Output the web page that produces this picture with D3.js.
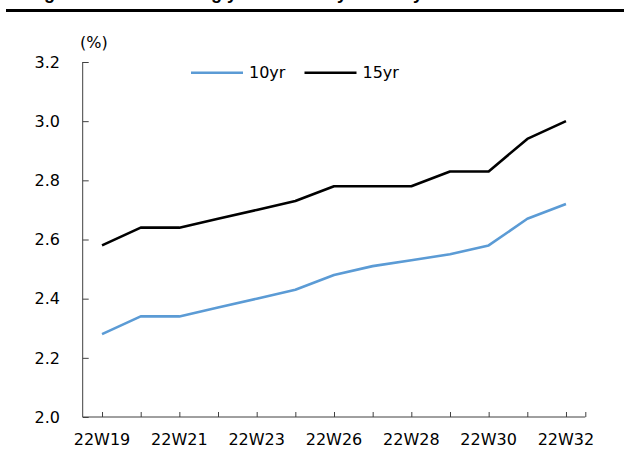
<!DOCTYPE html>
<html>
<head>
<meta charset="utf-8">
<script src="https://cdn.jsdelivr.net/npm/d3@7"></script>
<style>
  html, body { margin: 0; padding: 0; background: #fff; }
  svg { display: block; }
</style>
</head>
<body>
<svg id="chart" width="629" height="450"></svg>
<script>
const categories = ["22W19","22W20","22W21","22W22","22W23","22W24","22W26","22W27","22W28","22W29","22W30","22W31","22W32"];
const tickLabels = ["22W19","22W21","22W23","22W26","22W28","22W30","22W32"];
const yr10 = [2.28, 2.34, 2.34, 2.37, 2.40, 2.43, 2.48, 2.51, 2.53, 2.55, 2.58, 2.67, 2.72];
const yr15 = [2.58, 2.64, 2.64, 2.67, 2.70, 2.73, 2.78, 2.78, 2.78, 2.83, 2.83, 2.94, 3.00];
const yTicks = [2.0, 2.2, 2.4, 2.6, 2.8, 3.0, 3.2];
const seriesNames = ["10yr", "15yr"];
const seriesColors = ["#5B9BD5", "#000000"];

(function () {
const svg = d3.select("#chart");
const font = "DejaVu Sans, Verdana, sans-serif";
const fs = 16;

// title (cut off at top, as in the reference) and rule
svg.append("text")
  .attr("x", 28).attr("y", -1)
  .attr("font-family", "Liberation Sans, Arial, sans-serif")
  .attr("font-weight", "bold").attr("font-size", 18)
  .text("Figure 4: Bank lending yield curve by maturity");
svg.append("rect").attr("x", 6).attr("y", 9).attr("width", 618).attr("height", 3).attr("fill", "#000");

const pLeft = 82.7, pRight = 585.3, pTop = 62, pBottom = 417;
const x = d3.scaleLinear().domain([-0.5, categories.length - 0.5]).range([pLeft, pRight]);
const y = d3.scaleLinear().domain([2.0, 3.2]).range([pBottom, pTop]);

const axisColor = "#404040";

// y axis
const yAxis = d3.axisRight(y).tickValues(yTicks).tickSize(6).tickFormat("");
const gy = svg.append("g").attr("transform", `translate(${pLeft},0)`).call(yAxis);
gy.select(".domain").remove();
gy.selectAll("line").attr("stroke", axisColor);
svg.append("line").attr("x1", pLeft).attr("x2", pLeft).attr("y1", pTop).attr("y2", pBottom)
  .attr("stroke", axisColor).attr("stroke-width", 1);
svg.append("g").selectAll("text").data(yTicks).join("text")
  .attr("x", 60).attr("y", d => y(d)).attr("dy", "0.36em")
  .attr("text-anchor", "end").attr("font-family", font).attr("font-size", fs).attr("fill", "#000")
  .text(d => d3.format(".1f")(d));

// x axis
const tickIdx = categories.map((c, i) => i);
const xAxis = d3.axisTop(x).tickValues(tickIdx.concat([categories.length - 0.5])).tickSize(5).tickFormat("");
const gx = svg.append("g").attr("transform", `translate(0,${pBottom})`).call(xAxis);
gx.select(".domain").remove();
gx.selectAll("line").attr("stroke", axisColor);
svg.append("line").attr("x1", pLeft).attr("x2", pRight).attr("y1", pBottom).attr("y2", pBottom)
  .attr("stroke", axisColor).attr("stroke-width", 1);
svg.append("g").selectAll("text").data(tickLabels).join("text")
  .attr("x", d => x(categories.indexOf(d))).attr("y", 445)
  .attr("text-anchor", "middle").attr("font-family", font).attr("font-size", fs).attr("fill", "#000")
  .text(d => d);

// unit
svg.append("text").attr("x", 80).attr("y", 48)
  .attr("font-family", font).attr("font-size", fs).text("(%)");

// lines
const line = d3.line().x((d, i) => x(i)).y(d => y(d));
[yr10, yr15].forEach((s, k) => {
  svg.append("path").datum(s).attr("d", line)
    .attr("fill", "none").attr("stroke", seriesColors[k]).attr("stroke-width", 2.6)
    .attr("stroke-linejoin", "round");
});

// legend
const legX = [191, 304.5];
seriesNames.forEach((n, k) => {
  svg.append("line").attr("x1", legX[k]).attr("x2", legX[k] + 52).attr("y1", 72.7).attr("y2", 72.7)
    .attr("stroke", seriesColors[k]).attr("stroke-width", 2.6);
  svg.append("text").attr("x", legX[k] + 58).attr("y", 72.7).attr("dy", "0.36em")
    .attr("font-family", font).attr("font-size", fs).text(n);
});
})();
</script>
</body>
</html>
